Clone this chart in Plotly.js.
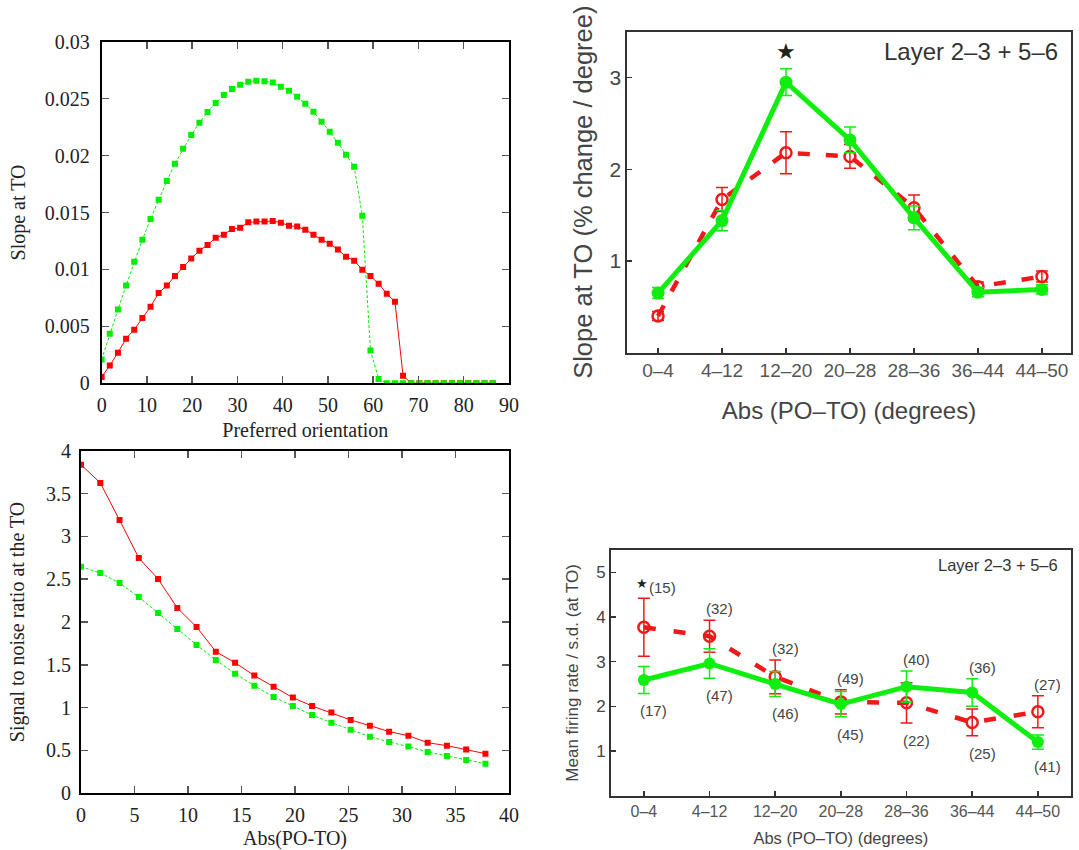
<!DOCTYPE html>
<html><head><meta charset="utf-8">
<script src="https://cdn.plot.ly/plotly-3.0.1.min.js"></script>
<style>html,body{margin:0;padding:0;background:#fff}#chart{width:1079px;height:850px}</style>
</head><body><div id="chart"></div><script>
// ---- Panel A: slope at TO vs preferred orientation ----
const orientationA = [0,1.8,3.6,5.4,7.2,9,10.8,12.6,14.4,16.2,18,19.8,21.6,23.4,25.2,27,28.8,30.6,32.4,34.2,36,37.8,39.6,41.4,43.2,45,46.8,48.6,50.4,52.2,54,55.8,57.6,59.4,61.2,63,64.8,66.6,68.4,70.2,72,73.8,75.6,77.4,79.2,81,82.8,84.6,86.4];
const slopeRedA = [0.00056,0.00155,0.00269,0.00392,0.00471,0.00574,0.00673,0.00793,0.00858,0.00942,0.01021,0.01095,0.01165,0.01215,0.01279,0.01305,0.01355,0.01367,0.01414,0.0142,0.0142,0.01425,0.01411,0.01384,0.01376,0.01349,0.01305,0.01261,0.01226,0.01174,0.01112,0.01077,0.00998,0.00942,0.00875,0.00787,0.00717,0.00067,0,0,0,0,0,0,0,0,0,0,0];
const slopeGreenA = [0.00208,0.00436,0.00647,0.00858,0.01068,0.01261,0.01443,0.01613,0.01777,0.01929,0.0206,0.0218,0.02289,0.02382,0.02461,0.02532,0.02584,0.02622,0.02649,0.02658,0.02652,0.02643,0.02605,0.0257,0.02517,0.02456,0.02385,0.02298,0.0221,0.02113,0.02008,0.01902,0.01472,0.00287,0.00038,0,0,0,0,0,0,0,0,0,0,0,0,0,0];

// ---- Panel C: signal to noise ratio vs Abs(PO-TO) ----
const diffC = [0,1.8,3.6,5.4,7.2,9,10.8,12.6,14.4,16.2,18,19.8,21.6,23.4,25.2,27,28.8,30.6,32.4,34.2,36,37.8];
const snrRedC = [3.837,3.623,3.19,2.747,2.502,2.163,1.942,1.654,1.525,1.374,1.245,1.117,1.019,0.942,0.856,0.79,0.72,0.673,0.591,0.556,0.51,0.463];
const snrGreenC = [2.646,2.572,2.455,2.292,2.105,1.918,1.732,1.556,1.397,1.257,1.125,1.019,0.914,0.825,0.743,0.661,0.599,0.545,0.482,0.436,0.389,0.346];

// ---- Panels B and D: binned experimental data ----
const binLabels = ["0\u20134","4\u201312","12\u201320","20\u201328","28\u201336","36\u201344","44\u201350"];
const slopeGreenB = [0.65,1.44,2.95,2.32,1.47,0.66,0.69];
const slopeGreenErrB = [0.06,0.11,0.145,0.14,0.13,0.05,0.05];
const slopeRedB = [0.40,1.67,2.18,2.14,1.58,0.72,0.83];
const slopeRedErrB = [0.05,0.13,0.23,0.13,0.14,0.05,0.06];
const rateGreenD = [2.59,2.96,2.50,2.05,2.44,2.31,1.20];
const rateGreenErrD = [0.30,0.33,0.28,0.28,0.35,0.31,0.16];
const rateRedD = [3.77,3.57,2.66,2.10,2.08,1.64,1.88];
const rateRedErrD = [0.65,0.36,0.38,0.27,0.45,0.30,0.36];
const countsUpperD = ["(15)","(32)","(32)","(49)","(40)","(36)","(27)"];
const countsLowerD = ["(17)","(47)","(46)","(45)","(22)","(25)","(41)"];
const layerLabel = "Layer 2\u20133 + 5\u20136";

const RED = '#ff0000', GREEN = '#00ee00';
const RED2 = '#f01818', GREEN2 = '#10ee10';
const SERIF = 'Liberation Serif', SANS = 'Liberation Sans';

const traces = [
  {x: orientationA, y: slopeRedA, xaxis:'x', yaxis:'y', mode:'lines+markers',
   line:{color:RED, width:1}, marker:{symbol:'square', size:6, color:RED}},
  {x: orientationA, y: slopeGreenA, xaxis:'x', yaxis:'y', mode:'lines+markers',
   line:{color:GREEN, width:1, dash:'3px,2px'}, marker:{symbol:'square', size:6, color:GREEN}},
  {x: binLabels, y: slopeRedB, xaxis:'x2', yaxis:'y2', mode:'lines+markers',
   line:{color:RED2, width:4.5, dash:'12px,16px'},
   marker:{symbol:'circle-open', size:11, color:RED2, line:{width:2.5}},
   error_y:{type:'data', array:slopeRedErrB, color:RED2, thickness:1.5, width:6}},
  {x: binLabels, y: slopeGreenB, xaxis:'x2', yaxis:'y2', mode:'lines+markers',
   line:{color:GREEN2, width:5},
   marker:{symbol:'circle', size:13, color:GREEN2},
   error_y:{type:'data', array:slopeGreenErrB, color:GREEN2, thickness:1.5, width:6}},
  {x: diffC, y: snrRedC, xaxis:'x3', yaxis:'y3', mode:'lines+markers',
   line:{color:RED, width:1}, marker:{symbol:'square', size:6, color:RED}},
  {x: diffC, y: snrGreenC, xaxis:'x3', yaxis:'y3', mode:'lines+markers',
   line:{color:GREEN, width:1, dash:'3px,2px'}, marker:{symbol:'square', size:6, color:GREEN}},
  {x: binLabels, y: rateRedD, xaxis:'x4', yaxis:'y4', mode:'lines+markers',
   line:{color:RED2, width:4.5, dash:'12px,18px'},
   marker:{symbol:'circle-open', size:11, color:RED2, line:{width:2.5}},
   error_y:{type:'data', array:rateRedErrD, color:RED2, thickness:1.5, width:6}},
  {x: binLabels, y: rateGreenD, xaxis:'x4', yaxis:'y4', mode:'lines+markers',
   line:{color:GREEN2, width:5},
   marker:{symbol:'circle', size:12, color:GREEN2},
   error_y:{type:'data', array:rateGreenErrD, color:GREEN2, thickness:1.5, width:6}}
];

const annotations = [];
// stars
annotations.push({xref:'x2', yref:'y2', x: binLabels[2], y: slopeGreenB[2] + slopeGreenErrB[2] + 0.19,
  text:'\u2605', showarrow:false, font:{family:'DejaVu Sans', size:22, color:'#222'}});
annotations.push({xref:'x4', yref:'y4', x: binLabels[0], y: rateRedD[0] + rateRedErrD[0] + 0.33, xshift:-2,
  text:'\u2605', showarrow:false, font:{family:'DejaVu Sans', size:13, color:'#222'}});
// layer labels
annotations.push({xref:'x2 domain', yref:'y2 domain', x:0.976, y:0.937, xanchor:'right', yanchor:'middle',
  text: layerLabel, showarrow:false, font:{family:SANS, size:24, color:'#333'}});
annotations.push({xref:'x4 domain', yref:'y4 domain', x:0.977, y:0.939, xanchor:'right', yanchor:'middle',
  text: layerLabel, showarrow:false, font:{family:SANS, size:16.5, color:'#333'}});
// counts
for (let i = 0; i < binLabels.length; i++) {
  const top = Math.max(rateRedD[i] + rateRedErrD[i], rateGreenD[i] + rateGreenErrD[i]);
  const bot = Math.min(rateRedD[i] - rateRedErrD[i], rateGreenD[i] - rateGreenErrD[i]);
  annotations.push({xref:'x4', yref:'y4', x: binLabels[i], y: top + 0.25, xshift: i === 0 ? 19 : 10,
    text: countsUpperD[i], showarrow:false, font:{family:SANS, size:15, color:'#444'}});
  annotations.push({xref:'x4', yref:'y4', x: binLabels[i], y: bot - 0.39, xshift: 10,
    text: countsLowerD[i], showarrow:false, font:{family:SANS, size:15, color:'#444'}});
}

function gpAxis(extra) {
  return Object.assign({showgrid:false, zeroline:false, showline:true, linecolor:'#000', linewidth:2,
    mirror:'ticks', ticks:'inside', ticklen:7, tickcolor:'#555', tickwidth:1.5,
    tickfont:{family:SERIF, size:20, color:'#222'}}, extra);
}
function expAxis(extra) {
  return Object.assign({showgrid:false, zeroline:false, showline:true, linecolor:'#333', linewidth:2,
    mirror:true, ticks:'inside', ticklen:5, tickcolor:'#333', tickwidth:1.5}, extra);
}

const layout = {
  width:1079, height:850, margin:{l:0, r:0, t:0, b:0},
  paper_bgcolor:'#fff', plot_bgcolor:'#fff', showlegend:false,
  annotations: annotations,
  xaxis: gpAxis({domain:[0.0942,0.4717], anchor:'y', range:[0,90], dtick:10, ticklabelstandoff:3,
    title:{text:'Preferred orientation', standoff:8, font:{family:SERIF, size:20, color:'#222'}}}),
  yaxis: gpAxis({domain:[0.5491,0.9509], anchor:'x', range:[0,0.03], dtick:0.005, ticklabelstandoff:6,
    title:{text:'Slope at TO', standoff:14, font:{family:SERIF, size:20, color:'#222'}}}),
  xaxis2: expAxis({domain:[0.5814,0.9923], anchor:'y2', type:'category', range:[-0.48,6.45],
    tickfont:{family:SANS, size:19, color:'#555'},
    title:{text:'Abs (PO\u2013TO) (degrees)', standoff:22, font:{family:SANS, size:24, color:'#444'}}}),
  yaxis2: expAxis({domain:[0.5851,0.9627], anchor:'x2', range:[0,3.5], tickvals:[1,2,3],
    tickfont:{family:SANS, size:21, color:'#444'},
    title:{text:'Slope at TO (% change / degree)', standoff:10, font:{family:SANS, size:25.5, color:'#444'}}}),
  xaxis3: gpAxis({domain:[0.0751,0.4717], anchor:'y3', range:[0,40], dtick:5, ticklabelstandoff:3,
    title:{text:'Abs(PO-TO)', standoff:7, font:{family:SERIF, size:20, color:'#222'}}}),
  yaxis3: gpAxis({domain:[0.0667,0.4698], anchor:'x3', range:[0,4], dtick:0.5, ticklabelstandoff:4,
    title:{text:'Signal to noise ratio at the TO', standoff:16, font:{family:SERIF, size:20, color:'#222'}}}),
  xaxis4: expAxis({domain:[0.5663,0.9923], anchor:'y4', type:'category', range:[-0.5,6.5],
    tickfont:{family:SANS, size:16, color:'#555'},
    title:{text:'Abs (PO\u2013TO) (degrees)', standoff:14, font:{family:SANS, size:16.5, color:'#444'}}}),
  yaxis4: expAxis({domain:[0.0639,0.3529], anchor:'x4', range:[0,5.5], tickvals:[1,2,3,4,5],
    tickfont:{family:SANS, size:17, color:'#444'},
    title:{text:'Mean firing rate / s.d. (at TO)', standoff:13, font:{family:SANS, size:17, color:'#444'}}})
};

Plotly.newPlot('chart', traces, layout, {displayModeBar:false, staticPlot:true});
</script></body></html>
